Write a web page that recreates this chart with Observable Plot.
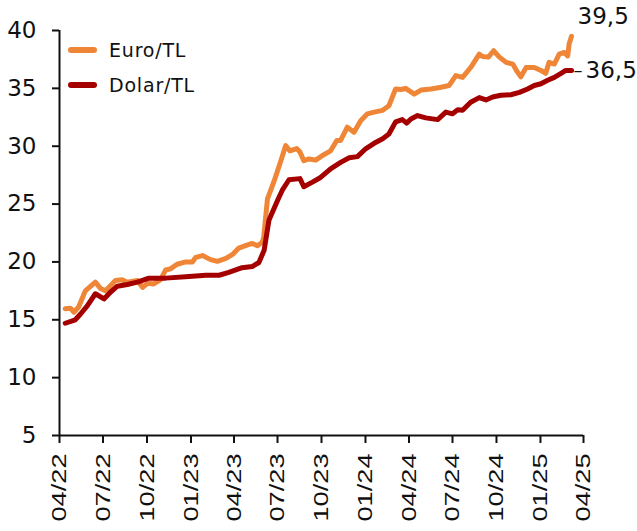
<!DOCTYPE html>
<html>
<head>
<meta charset="utf-8">
<script src="https://cdn.jsdelivr.net/npm/d3@7"></script>
<script src="https://cdn.jsdelivr.net/npm/@observablehq/plot@0.6"></script>
<style>
  html, body { margin: 0; padding: 0; background: #fff; }
  #wrap { position: relative; width: 637px; height: 531px; font-family: "DejaVu Sans", sans-serif; }
  .leg { position: absolute; left: 68px; display: flex; align-items: center; font-size: 19px; letter-spacing: 0.8px; color: #111; }
  .sw { width: 29px; height: 6px; border-radius: 3px; margin-right: 12px; }
</style>
</head>
<body>
<div id="wrap"></div>
<script>
// Euro/TL
const euroDates = [
  "2022-04-13","2022-04-24","2022-05-01","2022-05-11","2022-05-25","2022-06-15","2022-06-26","2022-07-06","2022-07-13","2022-07-27",
  "2022-08-10","2022-08-21","2022-09-11","2022-09-22","2022-10-02","2022-10-15","2022-10-29","2022-11-09","2022-11-19","2022-12-03",
  "2022-12-21","2023-01-04","2023-01-11","2023-01-25","2023-02-11","2023-02-25","2023-03-15","2023-03-29","2023-04-11","2023-04-25",
  "2023-05-09","2023-05-20","2023-05-30","2023-06-02","2023-06-10","2023-06-24","2023-07-08","2023-07-18","2023-07-27","2023-08-10",
  "2023-08-17","2023-08-25","2023-09-05","2023-09-19","2023-10-03","2023-10-20","2023-11-02","2023-11-10","2023-11-24","2023-12-08",
  "2023-12-22","2024-01-05","2024-01-19","2024-02-06","2024-02-19","2024-03-04","2024-03-15","2024-03-25","2024-04-12","2024-04-26",
  "2024-05-17","2024-06-07","2024-06-24","2024-07-08","2024-07-22","2024-08-08","2024-08-26","2024-09-02","2024-09-14","2024-09-25",
  "2024-10-07","2024-10-21","2024-11-04","2024-11-14","2024-11-21","2024-12-02","2024-12-19","2025-01-02","2025-01-12","2025-01-19",
  "2025-01-30","2025-02-09","2025-02-20","2025-02-27","2025-03-02","2025-03-07"
];
const euroValues = [
  15.95,16.0,15.65,16.1,17.5,18.25,17.7,17.5,17.8,18.4,
  18.45,18.25,18.4,17.8,18.15,18.1,18.45,19.3,19.4,19.8,
  20.0,20.0,20.4,20.55,20.2,20.05,20.3,20.65,21.2,21.4,
  21.6,21.4,21.7,22.1,25.45,27.0,28.75,30.05,29.6,29.8,
  29.5,28.75,28.9,28.8,29.2,29.6,30.5,30.5,31.65,31.2,
  32.2,32.8,32.95,33.1,33.5,34.95,34.9,35.0,34.5,34.85,
  34.95,35.1,35.25,36.1,35.95,36.8,37.95,37.75,37.7,38.25,
  37.7,37.25,37.1,36.4,36.0,36.8,36.8,36.55,36.3,37.25,
  37.1,37.95,38.1,37.8,38.85,39.5
];
// Dolar/TL
const dolarDates = [
  "2022-04-13","2022-05-04","2022-05-15","2022-05-29","2022-06-15","2022-07-03","2022-07-17","2022-07-31","2022-08-21","2022-09-11",
  "2022-10-05","2022-11-09","2022-12-28","2023-02-01","2023-03-01","2023-03-21","2023-04-18","2023-05-09","2023-05-23","2023-06-03",
  "2023-06-13","2023-07-01","2023-07-11","2023-07-25","2023-08-17","2023-08-25","2023-09-12","2023-09-29","2023-10-20","2023-11-10",
  "2023-11-28","2023-12-15","2024-01-02","2024-01-19","2024-02-06","2024-02-19","2024-03-04","2024-03-18","2024-03-27","2024-04-05",
  "2024-04-19","2024-05-06","2024-05-31","2024-06-17","2024-07-01","2024-07-12","2024-07-22","2024-08-08","2024-08-26","2024-09-09",
  "2024-09-23","2024-10-10","2024-10-31","2024-11-18","2024-12-05","2024-12-19","2025-01-02","2025-01-16","2025-01-30","2025-02-13",
  "2025-02-23","2025-03-07"
];
const dolarValues = [
  14.7,15.0,15.5,16.2,17.25,16.8,17.4,17.9,18.05,18.25,
  18.6,18.6,18.75,18.85,18.85,19.1,19.5,19.6,19.95,21.0,
  23.6,25.3,26.2,27.1,27.2,26.5,26.9,27.3,28.05,28.6,
  29.0,29.1,29.8,30.25,30.65,31.05,32.1,32.3,32.0,32.35,
  32.65,32.45,32.3,32.95,32.8,33.15,33.1,33.8,34.2,34.0,
  34.25,34.4,34.45,34.65,34.95,35.25,35.4,35.7,35.95,36.3,
  36.55,36.55
];
const seriesNames = ["Euro/TL", "Dolar/TL"];
const seriesColors = ["#EF8637", "#A50000"];
const endLabels = ["39,5", "36,5"];
const yTicks = [5, 10, 15, 20, 25, 30, 35, 40];
const xTickDates = ["2022-04-01","2022-07-01","2022-10-01","2023-01-01","2023-04-01","2023-07-01","2023-10-01",
  "2024-01-01","2024-04-01","2024-07-01","2024-10-01","2025-01-01","2025-04-01"];

const euro = euroDates.map((d, i) => ({date: new Date(d), value: euroValues[i]}));
const dolar = dolarDates.map((d, i) => ({date: new Date(d), value: dolarValues[i]}));
const xTicks = xTickDates.map(d => new Date(d));
const xDomain = [xTicks[0], xTicks[xTicks.length - 1]];

const chart = Plot.plot({
  width: 637,
  height: 531,
  marginTop: 30,
  marginBottom: 96,
  marginLeft: 59,
  marginRight: 54,
  style: {fontFamily: "DejaVu Sans", background: "white", color: "#111", overflow: "visible"},
  x: {type: "utc", domain: xDomain},
  y: {domain: [5, 40]},
  marks: [
    Plot.axisY({ticks: yTicks, tickSize: 7, tickPadding: 16, fontSize: 23, strokeWidth: 2, label: null}),
    Plot.axisX({ticks: xTicks, tickFormat: d3.utcFormat("%m/%y"), tickRotate: -90, tickSize: 8, tickPadding: 10,
      fontSize: 21, fontFamily: "Liberation Sans", strokeWidth: 2, label: null}),
    Plot.ruleX([xDomain[0]], {stroke: "#111", strokeWidth: 2}),
    Plot.ruleY([5], {stroke: "#111", strokeWidth: 2}),
    Plot.line(euro, {x: "date", y: "value", stroke: seriesColors[0], strokeWidth: 5, strokeLinejoin: "round", strokeLinecap: "round"}),
    Plot.line(dolar, {x: "date", y: "value", stroke: seriesColors[1], strokeWidth: 5, strokeLinejoin: "round", strokeLinecap: "round"}),
    Plot.text([euro[euro.length - 1]], {x: "date", y: "value", text: () => endLabels[0], textAnchor: "start",
      dx: 6, dy: -20, fontSize: 23, fill: "#111"}),
    Plot.text([dolar[dolar.length - 1]], {x: "date", y: "value", text: () => "–", textAnchor: "start",
      dx: 2, dy: 0, fontSize: 18, fill: "#111"}),
    Plot.text([dolar[dolar.length - 1]], {x: "date", y: "value", text: () => endLabels[1], textAnchor: "start",
      dx: 14, dy: 0, fontSize: 23, fill: "#111"})
  ]
});

chart.querySelectorAll('g[aria-label="x-axis tick label"] text').forEach(t => {
  t.setAttribute("textLength", "68");
  t.setAttribute("lengthAdjust", "spacingAndGlyphs");
});

const wrap = document.getElementById("wrap");
wrap.appendChild(chart);

const legTops = [40, 75];
seriesNames.forEach((name, i) => {
  const row = document.createElement("div");
  row.className = "leg";
  row.style.top = legTops[i] + "px";
  row.style.height = "20px";
  const sw = document.createElement("div");
  sw.className = "sw";
  sw.style.background = seriesColors[i];
  const tx = document.createElement("span");
  tx.textContent = name;
  row.appendChild(sw);
  row.appendChild(tx);
  wrap.appendChild(row);
});
</script>
</body>
</html>
